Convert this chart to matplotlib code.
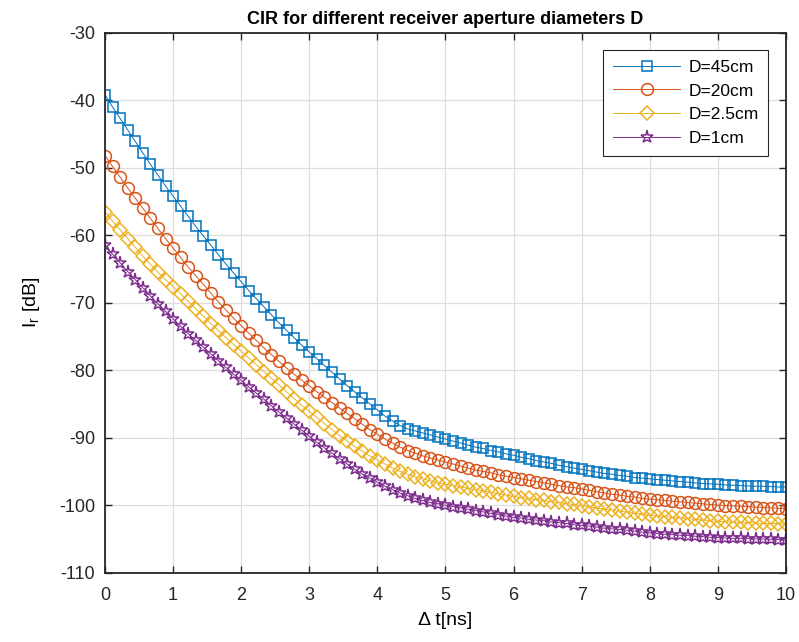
import numpy as np
import matplotlib
matplotlib.use("Agg")
import matplotlib.pyplot as plt

plt.rcParams['font.family'] = ['Liberation Sans', 'DejaVu Sans']
plt.rcParams['axes.unicode_minus'] = False

# Delay axis: 91 samples from 0 to 10 ns
delta_t = np.linspace(0, 10, 91)

ir_45cm = [
    -39.2, -41.0, -42.7, -44.4, -46.1, -47.8, -49.5, -51.1, -52.7, -54.2,
    -55.7, -57.2, -58.7, -60.1, -61.5, -62.9, -64.3, -65.6, -66.9,
    -68.2, -69.4, -70.6, -71.8, -73.0, -74.1, -75.2, -76.3, -77.3,
    -78.3, -79.3, -80.3, -81.3, -82.3, -83.2, -84.1, -85.0, -85.9,
    -86.8, -87.5, -88.2, -88.7, -89.0, -89.3, -89.6, -89.9, -90.2,
    -90.5, -90.8, -91.1, -91.4, -91.6, -91.9, -92.1, -92.4, -92.6,
    -92.9, -93.1, -93.4, -93.6, -93.8, -94.1, -94.3, -94.5, -94.7,
    -94.9, -95.1, -95.3, -95.4, -95.6, -95.7, -95.9, -96.0, -96.1,
    -96.2, -96.3, -96.4, -96.5, -96.6, -96.7, -96.8, -96.85, -96.9,
    -97.0, -97.05, -97.1, -97.15, -97.2, -97.2, -97.25, -97.3, -97.3,
]

ir_20cm = [
    -48.2, -49.8, -51.4, -53.0, -54.5, -56.0, -57.5, -59.0, -60.5, -61.9,
    -63.3, -64.7, -66.0, -67.3, -68.6, -69.9, -71.1, -72.3, -73.4,
    -74.5, -75.6, -76.7, -77.7, -78.7, -79.7, -80.6, -81.5, -82.3,
    -83.2, -84.0, -84.8, -85.6, -86.4, -87.2, -88.0, -88.8, -89.5,
    -90.2, -90.8, -91.4, -91.9, -92.3, -92.7, -93.0, -93.3, -93.6,
    -93.9, -94.2, -94.5, -94.8, -95.0, -95.2, -95.5, -95.7, -95.9,
    -96.1, -96.3, -96.5, -96.7, -96.9, -97.1, -97.3, -97.4, -97.6,
    -97.8, -98.0, -98.2, -98.4, -98.5, -98.7, -98.8, -99.0, -99.1,
    -99.2, -99.3, -99.4, -99.5, -99.6, -99.7, -99.8, -99.9, -100.0,
    -100.05, -100.1, -100.15, -100.2, -100.3, -100.35, -100.4, -100.45, -100.5,
]

ir_2_5cm = [
    -56.5, -57.9, -59.2, -60.5, -61.8, -63.1, -64.3, -65.5, -66.6, -67.6,
    -68.7, -69.8, -70.9, -72.0, -73.1, -74.1, -75.2, -76.2, -77.2,
    -78.2, -79.2, -80.2, -81.2, -82.2, -83.2, -84.2, -85.2, -86.1,
    -87.0, -87.9, -88.8, -89.7, -90.5, -91.3, -92.0, -92.7, -93.3,
    -93.9, -94.5, -95.0, -95.4, -95.8, -96.1, -96.4, -96.7, -96.9,
    -97.1, -97.3, -97.5, -97.7, -97.9, -98.1, -98.3, -98.5, -98.7,
    -98.9, -99.0, -99.2, -99.3, -99.5, -99.6, -99.8, -99.9, -100.1,
    -100.3, -100.4, -100.6, -100.7, -100.9, -101.0, -101.2, -101.3, -101.5,
    -101.6, -101.7, -101.8, -101.9, -102.0, -102.1, -102.2, -102.3, -102.4,
    -102.45, -102.5, -102.55, -102.6, -102.65, -102.7, -102.7, -102.75, -102.8,
]

ir_1cm = [
    -61.5, -62.8, -64.1, -65.4, -66.6, -67.8, -69.0, -70.2, -71.3, -72.4,
    -73.5, -74.6, -75.6, -76.6, -77.6, -78.6, -79.6, -80.6, -81.5,
    -82.5, -83.4, -84.3, -85.3, -86.2, -87.1, -88.0, -88.9, -89.8,
    -90.7, -91.5, -92.3, -93.1, -93.9, -94.7, -95.4, -96.0, -96.6,
    -97.2, -97.7, -98.2, -98.6, -99.0, -99.3, -99.6, -99.8, -100.0,
    -100.2, -100.4, -100.6, -100.8, -101.0, -101.2, -101.4, -101.6, -101.8,
    -101.9, -102.1, -102.2, -102.3, -102.5, -102.6, -102.7, -102.9, -103.0,
    -103.1, -103.25, -103.4, -103.5, -103.6, -103.7, -103.85, -104.0, -104.1,
    -104.2, -104.3, -104.35, -104.45, -104.5, -104.6, -104.65, -104.75, -104.8,
    -104.85, -104.9, -104.9, -104.95, -105.0, -105.0, -105.05, -105.1, -105.1,
]

labels = ['D=45cm', 'D=20cm', 'D=2.5cm', 'D=1cm']
series = [ir_45cm, ir_20cm, ir_2_5cm, ir_1cm]
colors = ['#0072BD', '#D95319', '#EDB120', '#7E2F8E']
markers = ['s', 'o', 'D', '*']
msizes = [7, 8.5, 7, 9.5]

x_ticks = list(range(0, 11))
y_ticks = list(range(-110, -29, 10))

fig = plt.figure(figsize=(7.99, 6.42), dpi=100)
ax = fig.add_axes([0.1314, 0.108, 0.8523, 0.841])

for y, c, m, ms, lab in zip(series, colors, markers, msizes, labels):
    ax.plot(delta_t, y, color=c, lw=0.7, marker=m, ms=ms,
            markerfacecolor='none', markeredgecolor=c, markeredgewidth=1.1,
            label=lab)

ax.set_xlim(0, 10)
ax.set_ylim(-110, -30)
ax.set_xticks(x_ticks)
ax.set_yticks(y_ticks)
ax.tick_params(direction='in', length=5, width=1, labelsize=13,
               colors='#262626', top=True, right=True)
ax.tick_params(axis='x', pad=10)
ax.tick_params(axis='y', pad=7)
ax.grid(True, color='#dedede', lw=0.9)
ax.set_axisbelow(True)
for sp in ax.spines.values():
    sp.set_color('#262626')
    sp.set_linewidth(1.3)

ax.set_title('CIR for different receiver aperture diameters D',
             fontsize=13, fontweight='bold', pad=6)
ax.set_xlabel('Δ t[ns]', fontsize=14, labelpad=6)
ax.set_ylabel('I$_\\mathregular{r}$ [dB]', fontsize=14, labelpad=12)

leg = ax.legend(loc='upper right', bbox_to_anchor=(0.9736, 0.968),
                fontsize=12.5, handlelength=3.9, handletextpad=0.45,
                borderpad=0.55, labelspacing=0.5, fancybox=False,
                framealpha=1, edgecolor='#262626', borderaxespad=0)
leg.get_frame().set_linewidth(0.8)

fig.savefig('out.png', dpi=100)
